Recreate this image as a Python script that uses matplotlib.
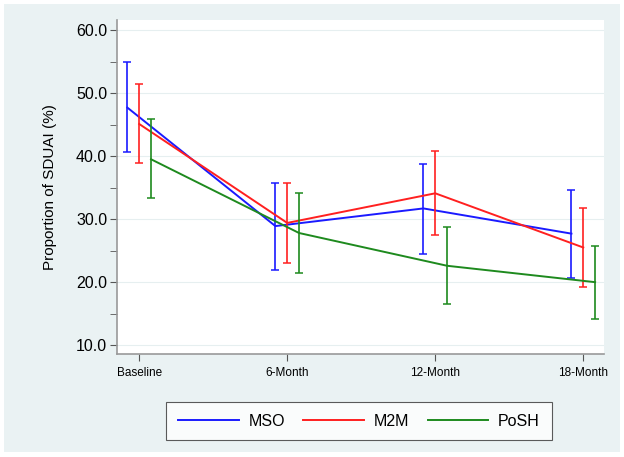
import numpy as np
import matplotlib.pyplot as plt
from matplotlib.patches import Rectangle
from matplotlib.ticker import MultipleLocator

plt.rcParams['font.family'] = ['Liberation Sans', 'DejaVu Sans']

# Data
timepoints = ["Baseline", "6-Month", "12-Month", "18-Month"]
groups = ["MSO", "M2M", "PoSH"]
colors = ["#1a1aff", "#ff2020", "#1e8a1e"]
offsets = [-0.08, 0.0, 0.08]

mso = [47.7, 28.9, 31.7, 27.7]
mso_lo = [40.7, 21.9, 24.4, 20.6]
mso_hi = [55.0, 35.7, 38.8, 34.7]

m2m = [45.1, 29.4, 34.1, 25.5]
m2m_lo = [38.9, 23.0, 27.5, 19.2]
m2m_hi = [51.4, 35.7, 40.8, 31.7]

posh = [39.5, 27.8, 22.6, 20.0]
posh_lo = [33.3, 21.4, 16.6, 14.2]
posh_hi = [45.9, 34.1, 28.7, 25.8]

series = [(mso, mso_lo, mso_hi), (m2m, m2m_lo, m2m_hi), (posh, posh_lo, posh_hi)]

bg = "#eaf2f3"
fig = plt.figure(figsize=(6.24, 4.57), dpi=100)
fig.patch.set_facecolor("white")
fig.patches.append(Rectangle((4 / 624, 5 / 457), 616 / 624, 448 / 457,
                             transform=fig.transFigure, facecolor=bg,
                             edgecolor="none", zorder=-10))

ax = fig.add_axes([117 / 624, 1 - 354 / 457, 487 / 624, 334 / 457])
ax.set_facecolor("white")

x = np.arange(len(timepoints))
for (vals, lo, hi), name, col, off in zip(series, groups, colors, offsets):
    xs = x + off
    vals = np.array(vals)
    ax.errorbar(xs, vals, yerr=[vals - np.array(lo), np.array(hi) - vals],
                fmt="none", ecolor=col, elinewidth=1.2, capsize=3, capthick=1.1)
    ax.plot(xs, vals, color=col, lw=1.4, label=name)

ax.set_xlim(-0.15, 3.14)
ax.set_ylim(8.6, 61.6)
ax.set_xticks(x)
ax.set_xticklabels(timepoints, fontsize=8.5)
ax.set_yticks(np.arange(10, 61, 10))
ax.set_yticklabels([f"{v:.1f}" for v in np.arange(10, 61, 10)], fontsize=11.5)
ax.yaxis.set_minor_locator(MultipleLocator(5))
ax.tick_params(axis="y", which="major", length=5, color="#555555", pad=2)
ax.tick_params(axis="y", which="minor", length=5, color="#555555")
ax.tick_params(axis="x", length=5, color="#555555", pad=4)
ax.grid(axis="y", color="#e6eff0", lw=0.8)
ax.set_axisbelow(True)

for s in ["top", "right"]:
    ax.spines[s].set_visible(False)
for s in ["left", "bottom"]:
    ax.spines[s].set_color("#999999")
    ax.spines[s].set_linewidth(1.2)

ax.set_ylabel("Proportion of SDUAI (%)", fontsize=11, labelpad=14)

leg = fig.legend(loc="center", bbox_to_anchor=(359 / 624, 1 - 421 / 457), ncol=3,
                 fontsize=11.5, frameon=True, fancybox=False, handlelength=3.8,
                 columnspacing=1.15, handletextpad=0.6, borderpad=0.75,
                 borderaxespad=0)
leg.get_frame().set_edgecolor("#333333")
leg.get_frame().set_linewidth(0.8)
leg.get_frame().set_facecolor("white")

fig.savefig("out.png", dpi=100, facecolor=fig.get_facecolor())
